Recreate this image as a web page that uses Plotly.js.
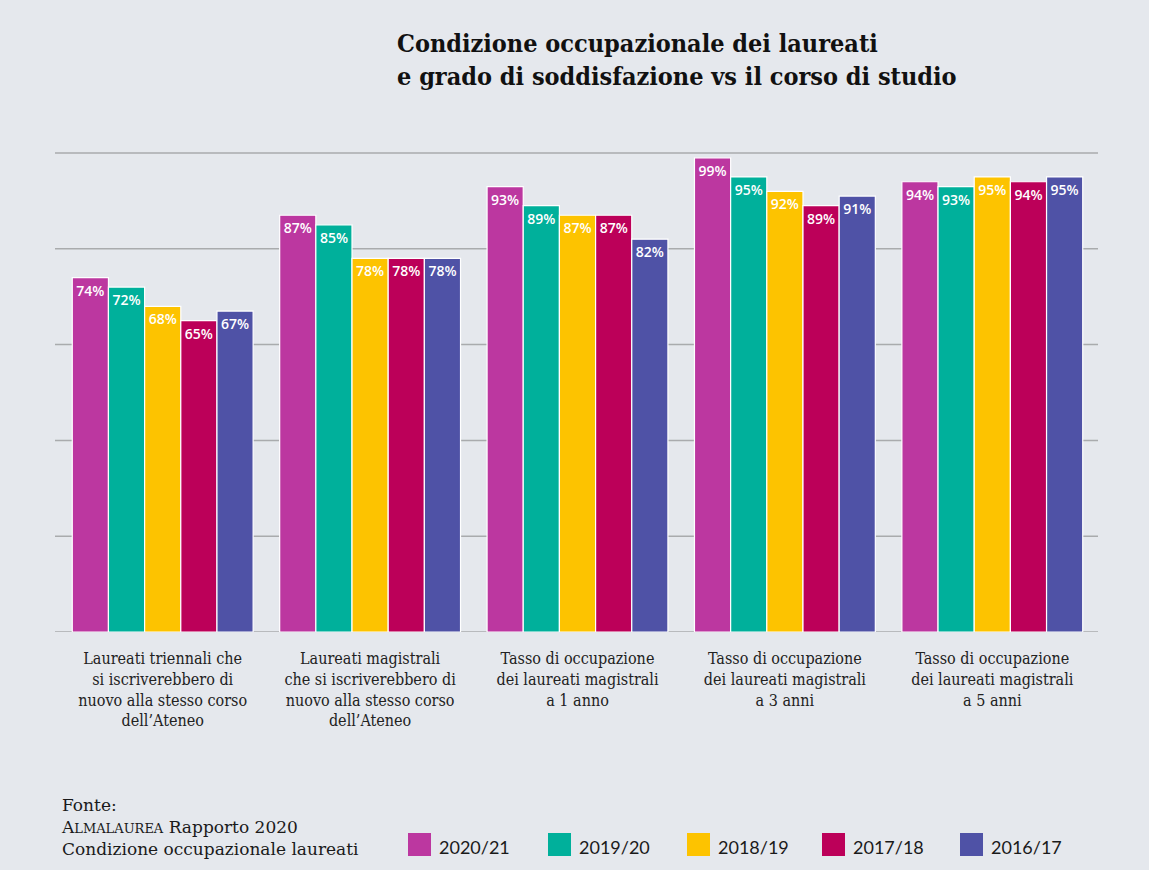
<!DOCTYPE html>
<html>
<head>
<meta charset="utf-8">
<script src="https://cdn.plot.ly/plotly-3.0.1.min.js"></script>
<style>
html,body{margin:0;padding:0;background:#e5e8ed;}
#chart{width:1149px;height:870px;}
</style>
</head>
<body>
<div id="chart"></div>
<script>
const categories = [
  "Laureati triennali che<br>si iscriverebbero di<br>nuovo alla stesso corso<br>dell’Ateneo",
  "Laureati magistrali<br>che si iscriverebbero di<br>nuovo alla stesso corso<br>dell’Ateneo",
  "Tasso di occupazione<br>dei laureati magistrali<br>a 1 anno",
  "Tasso di occupazione<br>dei laureati magistrali<br>a 3 anni",
  "Tasso di occupazione<br>dei laureati magistrali<br>a 5 anni"
];
const seriesNames = ["2020/21", "2019/20", "2018/19", "2017/18", "2016/17"];
const v2020_21 = [74, 87, 93, 99, 94];
const v2019_20 = [72, 85, 89, 95, 93];
const v2018_19 = [68, 78, 87, 92, 95];
const v2017_18 = [65, 78, 87, 89, 94];
const v2016_17 = [67, 78, 82, 91, 95];
const seriesValues = [v2020_21, v2019_20, v2018_19, v2017_18, v2016_17];
const colors = ["#bc37a0", "#00b09b", "#fdc300", "#bc0059", "#4f52a6"];

const traces = seriesNames.map((name, i) => ({
  type: "bar",
  name: name,
  x: categories,
  y: seriesValues[i],
  text: seriesValues[i].map(v => v + "%"),
  textposition: "inside",
  insidetextanchor: "end",
  textangle: 0,
  constraintext: "none",
  insidetextfont: {family: "Open Sans, sans-serif", size: 14, color: "#ffffff", weight: 600},
  marker: {color: colors[i], line: {color: "#ffffff", width: 1.2}},
  hoverinfo: "skip",
  showlegend: false
}));

const serif = "DejaVu Serif Condensed, DejaVu Serif, serif";

const L = 59, R = 1096, T = 150, B = 632;
const PW = R - L, PH = B - T;
const px = x => (x - L) / PW;
const py = y => (B - y) / PH;

const shapes = [];
const annotations = [];
const legX = [408, 548, 687, 822, 960];
seriesNames.forEach((name, i) => {
  shapes.push({
    type: "rect", xref: "paper", yref: "paper",
    x0: px(legX[i]), x1: px(legX[i] + 23),
    y0: py(856), y1: py(833),
    fillcolor: colors[i], line: {width: 0}
  });
  annotations.push({
    xref: "paper", yref: "paper",
    x: px(legX[i] + 29), y: py(847),
    xanchor: "left", yanchor: "middle",
    text: name, showarrow: false,
    font: {family: "Lato, sans-serif", size: 18, color: "#1a1a1a"}
  });
});
// gridlines extend slightly beyond the category domain, as in the reference
[0, 20, 40, 60, 80, 100].forEach(v => {
  shapes.push({
    type: "line", xref: "paper", yref: "y",
    x0: px(55), x1: px(1098), y0: v, y1: v,
    line: {color: "#a9abad", width: 1.5}, layer: "below"
  });
});

annotations.push({
  xref: "paper", yref: "paper",
  x: px(59), y: py(793),
  xanchor: "left", yanchor: "top", align: "left",
  text: "Fonte:<br>A<span style=\"font-size:13px\">LMALAUREA</span> Rapporto 2020<br>Condizione occupazionale laureati",
  showarrow: false,
  font: {family: "DejaVu Serif, serif", size: 17, color: "#1a1a1a"}
});

const layout = {
  width: 1149, height: 870,
  paper_bgcolor: "#e5e8ed", plot_bgcolor: "#e5e8ed",
  margin: {l: L, r: 1149 - R, t: T, b: 870 - B},
  title: {
    text: "<b>Condizione occupazionale dei laureati<br>e grado di soddisfazione vs il corso di studio</b>",
    xref: "container", yref: "container",
    x: 397 / 1149, xanchor: "left",
    y: 1 - 52 / 870, yanchor: "top",
    font: {family: serif, size: 25, color: "#111111"}
  },
  barmode: "group",
  bargap: 0.128,
  bargroupgap: 0,
  xaxis: {
    type: "category",
    showgrid: false, zeroline: false, showline: false,
    ticks: "", ticklabelstandoff: 15,
    tickfont: {family: serif, size: 16, color: "#222222"},
    fixedrange: true
  },
  yaxis: {
    range: [0, 100 * PH / 479],
    tickvals: [0, 20, 40, 60, 80, 100],
    showticklabels: false,
    showgrid: false,
    zeroline: false,
    fixedrange: true
  },
  shapes: shapes,
  annotations: annotations,
  showlegend: false
};

Plotly.newPlot("chart", traces, layout, {displayModeBar: false, staticPlot: true});
</script>
</body>
</html>
